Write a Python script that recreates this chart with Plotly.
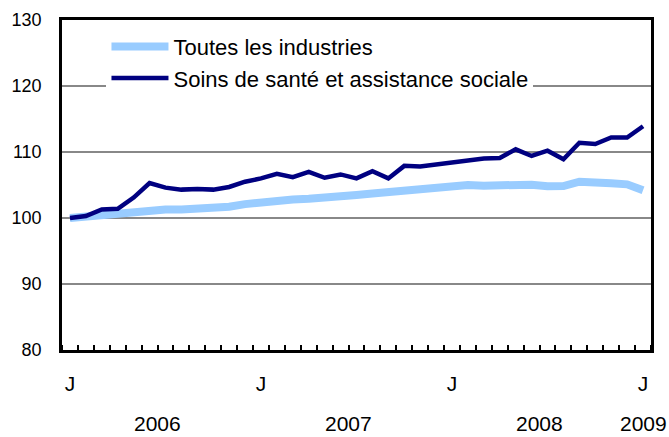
import plotly.graph_objects as go

months = list(range(37))  # Jan 2006 .. Jan 2009
toutes = [100.0, 100.2, 100.6, 100.7, 101.1, 101.2, 101.3, 101.3, 101.4, 101.45,
          101.7, 102.1, 102.4, 102.6, 102.8, 102.9, 103.0, 103.3, 103.5, 103.7,
          103.9, 104.2, 104.5, 104.6, 104.8, 105.0, 104.9, 105.0, 105.05, 105.05,
          104.8, 104.85, 105.5, 105.5, 105.25, 105.1, 104.2]
soins = [100.0, 100.3, 101.3, 101.4, 103.1, 105.3, 104.6, 104.3, 104.4, 104.3,
         104.7, 105.5, 106.0, 106.7, 106.2, 107.0, 106.1, 106.6, 106.0, 107.1,
         106.0, 107.9, 107.8, 108.1, 108.5, 108.8, 109.0, 109.1, 110.4, 109.4,
         110.2, 108.9, 111.4, 111.2, 112.2, 112.2, 113.9]
x_tickvals = [0, 12, 24, 36]
x_ticktext = ["J", "J", "J", "J"]
year_pos = [5.5, 17.5, 29.5, 36]
year_text = ["2006", "2007", "2008", "2009"]
y_ticks = [80, 90, 100, 110, 120, 130]

FONT = "Liberation Sans, Arial, sans-serif"

fig = go.Figure()
fig.add_trace(go.Scatter(x=months, y=toutes, mode="lines", name="Toutes les industries",
                         line=dict(color="#99ccff", width=8), legendgroup="a"))
fig.add_trace(go.Scatter(x=months, y=soins, mode="lines", name="Soins de santé et assistance sociale",
                         line=dict(color="#000080", width=4.5), legendgroup="b"))

for xp, t in zip(year_pos, year_text):
    fig.add_annotation(x=xp, y=0, xref="x", yref="paper", text=t, showarrow=False,
                       yshift=-73, yanchor="middle", xanchor="center",
                       font=dict(family=FONT, size=21, color="black"))

fig.update_layout(
    width=669, height=437,
    margin=dict(l=62, r=18, t=20, b=87, autoexpand=False),
    paper_bgcolor="white", plot_bgcolor="white",
    font=dict(family=FONT, color="black"),
    showlegend=True,
    legend=dict(x=0.0755, y=0.983, xanchor="left", yanchor="top",
                bgcolor="white", borderwidth=0,
                font=dict(family=FONT, size=22, color="black"),
                itemwidth=57, tracegroupgap=0, traceorder="grouped"),
    xaxis=dict(range=[-0.5, 36.5], tickvals=x_tickvals, ticktext=x_ticktext,
               ticks="", showgrid=False, zeroline=False, automargin=False,
               showline=True, mirror=True, linecolor="black", linewidth=2.5,
               tickfont=dict(family=FONT, size=21, color="black"),
               ticklabelstandoff=13,
               minor=dict(tick0=0.5, dtick=1, ticks="inside", ticklen=5,
                          tickwidth=1.5, tickcolor="black", showgrid=False)),
    yaxis=dict(range=[80, 130], tickvals=y_ticks, ticks="", automargin=False,
               showgrid=True, gridcolor="#888888", gridwidth=2,
               zeroline=False, showline=True, mirror=True,
               linecolor="black", linewidth=2.5,
               tickfont=dict(family=FONT, size=18, color="black"),
               ticklabelstandoff=14),
)

fig.write_html("out.html", config={"displayModeBar": False},
               post_script="document.body.style.margin='0px';")
